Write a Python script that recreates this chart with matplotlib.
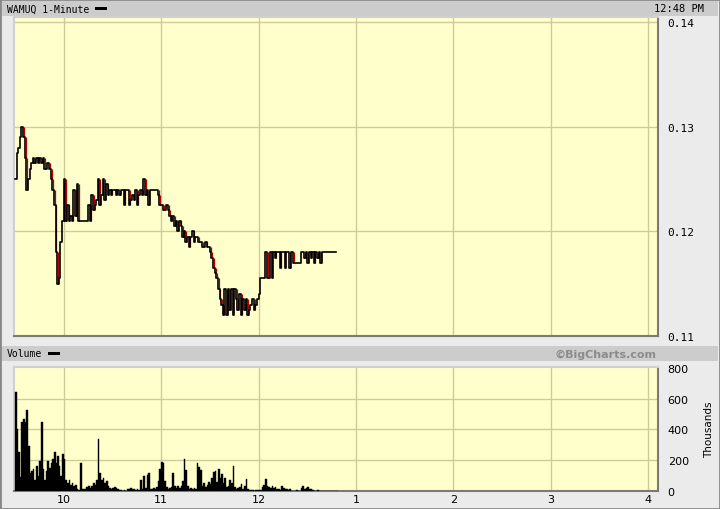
import numpy as np
import matplotlib
matplotlib.use("Agg")
import matplotlib.pyplot as plt
from matplotlib.patches import Rectangle

# minutes after 9:30, one close per minute
price = [
    0.125, 0.1275, 0.128, 0.129, 0.130, 0.129, 0.127, 0.124, 0.125, 0.126,
    0.1265, 0.127, 0.1265, 0.127, 0.1265, 0.127, 0.1265, 0.127, 0.126, 0.126,
    0.1265, 0.126, 0.125, 0.124, 0.1225, 0.118, 0.115, 0.1155, 0.119, 0.121,
    0.125, 0.121, 0.1225, 0.121, 0.1215, 0.121, 0.124, 0.1215, 0.1245, 0.121,
    0.121, 0.121, 0.121, 0.121, 0.121, 0.1225, 0.121, 0.1235, 0.122, 0.1225,
    0.123, 0.125, 0.1225, 0.1235, 0.125, 0.123, 0.1245, 0.1235, 0.124, 0.1235,
    0.124, 0.124, 0.1235, 0.124, 0.1235, 0.124, 0.124, 0.1225, 0.124, 0.124,
    0.1225, 0.123, 0.1235, 0.123, 0.124, 0.1225, 0.1235, 0.124, 0.1235, 0.125,
    0.1235, 0.124, 0.1225, 0.124, 0.124, 0.124, 0.124, 0.124, 0.1235, 0.1225,
    0.1225, 0.122, 0.122, 0.1225, 0.122, 0.1215, 0.121, 0.1215, 0.1205, 0.121,
    0.120, 0.121, 0.1205, 0.1195, 0.120, 0.119, 0.1195, 0.1185, 0.1195, 0.120,
    0.119, 0.1195, 0.1195, 0.119, 0.119, 0.1185, 0.1185, 0.119, 0.1185, 0.1185,
    0.118, 0.1175, 0.1165, 0.116, 0.1155, 0.1145, 0.1135, 0.113, 0.112, 0.1145,
    0.112, 0.1145, 0.1125, 0.1145, 0.112, 0.1145, 0.1135, 0.1125, 0.114, 0.112,
    0.1135, 0.1125, 0.1135, 0.112, 0.1125, 0.113, 0.1135, 0.1125, 0.113, 0.1135,
    0.114, 0.1155, 0.1155, 0.1155, 0.118, 0.1155, 0.1155, 0.118, 0.1155, 0.118,
    0.1175, 0.118, 0.118, 0.1165, 0.118, 0.118, 0.1165, 0.118, 0.118, 0.1165,
    0.118, 0.117, 0.117, 0.117, 0.117, 0.117, 0.118, 0.118, 0.1175, 0.118,
    0.117, 0.118, 0.1175, 0.118, 0.117, 0.118, 0.1175, 0.118, 0.117, 0.118,
    0.118, 0.118, 0.118, 0.118, 0.118, 0.118, 0.118, 0.118, 0.118,
]

# volume per minute, thousands
volume = [
    640, 400, 250, 90, 445, 470, 445, 525, 295, 115,
    130, 140, 70, 160, 95, 195, 445, 140, 70, 130,
    195, 150, 185, 205, 250, 185, 230, 160, 95, 240,
    205, 70, 50, 70, 40, 50, 30, 40, 15, 5,
    180, 15, 10, 15, 25, 30, 20, 30, 50, 40,
    70, 335, 115, 70, 85, 50, 65, 30, 20, 15,
    20, 25, 20, 10, 5, 5, 3, 5, 3, 10,
    15, 20, 10, 15, 5, 10, 5, 70, 15, 100,
    20, 105, 115, 10, 15, 20, 10, 25, 65, 140,
    190, 180, 65, 25, 15, 20, 25, 115, 30, 20,
    30, 20, 30, 65, 210, 135, 30, 15, 20, 10,
    20, 15, 185, 155, 135, 30, 50, 25, 40, 60,
    45, 85, 125, 130, 60, 140, 85, 110, 50, 85,
    25, 30, 70, 50, 165, 25, 15, 20, 25, 45,
    15, 30, 80, 15, 5, 5, 5, 3, 5, 5,
    5, 7, 25, 40, 80, 30, 25, 20, 30, 20,
    25, 15, 10, 5, 30, 20, 15, 10, 5, 10,
    3, 2, 2, 5, 3, 3, 20, 30, 15, 20,
    25, 15, 10, 5, 2, 2, 5, 3, 2, 3,
    2, 2, 2, 2, 2, 2, 2, 2, 2,
]

hour_ticks = [30, 90, 150, 210, 270, 330, 390]
hour_labels = ["10", "11", "12", "1", "2", "3", "4"]
price_ticks = [0.11, 0.12, 0.13, 0.14]
vol_ticks = [0, 200, 400, 600, 800]

W, H = 720, 510
BG = "#EBEBEB"
PANEL = "#FFFFCC"
GRID = "#CCCC99"


def box(x0, y0, x1, y1):
    # pixel box (top-left origin) -> figure fraction rect
    return [x0 / W, 1 - y1 / H, (x1 - x0) / W, (y1 - y0) / H]


def rect(x0, y0, x1, y1, **kw):
    l, b, w, h = box(x0, y0, x1, y1)
    fig.patches.append(Rectangle((l, b), w, h, transform=fig.transFigure, **kw))


fig = plt.figure(figsize=(W / 100, H / 100), dpi=100)
fig.patch.set_facecolor(BG)

# outer frame and header bars
rect(0, 0, 720, 510, facecolor="none", edgecolor="#888888", lw=2)
rect(2, 2, 718, 17, facecolor="#CCCCCC", edgecolor="none")
rect(2, 347, 718, 362, facecolor="#CCCCCC", edgecolor="none")
rect(95, 7.5, 107, 10.5, facecolor="black", edgecolor="none")
rect(48, 352.5, 60, 355.5, facecolor="black", edgecolor="none")

mono = "DejaVu Sans Mono"
fig.text(7 / W, 1 - 9.5 / H, "WAMUQ 1-Minute", family=mono, fontsize=7, va="center")
fig.text(704 / W, 1 - 9.5 / H, "12:48 PM", family=mono, fontsize=7.5, va="center", ha="right")
fig.text(7 / W, 1 - 354.5 / H, "Volume", family=mono, fontsize=7, va="center")
fig.text(656 / W, 1 - 354.5 / H, "\u00a9BigCharts.com", fontsize=8, fontweight="bold",
         color="#8C8C8C", va="center", ha="right")
fig.text(709 / W, 1 - 430 / H, "Thousands", fontsize=7.5, rotation=90, va="center", ha="center")

minutes = np.arange(len(price))
p = np.array(price)

# price panel
ax = fig.add_axes(box(14, 18, 658, 337))
ax.set_facecolor(PANEL)
ax.set_xlim(-0.6, 396)
ax.set_ylim(0.11, 0.1405)
for v in hour_ticks:
    ax.axvline(v, color=GRID, lw=1, zorder=1)
for v in price_ticks[1:]:
    ax.axhline(v, color=GRID, lw=1, zorder=1)
# downticks show as red strokes peeking out beside the black line
down = np.where(np.diff(p) < 0)[0] + 1
ax.vlines(minutes[down] + 0.55, p[down], p[down - 1], color="#B00000", lw=0.9, zorder=2)
ax.step(minutes, p, where="post", color="black", lw=1.2, zorder=3)
ax.set_xticks([])
ax.yaxis.tick_right()
ax.set_yticks(price_ticks)
ax.set_yticklabels([f"{v:.2f}" for v in price_ticks], family=mono, fontsize=8)
ax.tick_params(axis="y", length=0, pad=7)

# volume panel
axv = fig.add_axes(box(14, 368, 658, 492))
axv.set_facecolor(PANEL)
axv.set_xlim(-0.6, 396)
axv.set_ylim(0, 805)
for v in hour_ticks:
    axv.axvline(v, color=GRID, lw=1, zorder=1)
for v in vol_ticks[1:4]:
    axv.axhline(v, color=GRID, lw=1, zorder=1)
axv.bar(minutes, volume, width=1.0, color="black", edgecolor="black", lw=0.3,
        align="edge", zorder=3)
axv.yaxis.tick_right()
axv.set_yticks(vol_ticks)
axv.set_yticklabels([str(v) for v in vol_ticks], fontsize=8)
axv.tick_params(axis="y", length=0, pad=7)
axv.set_xticks(hour_ticks)
axv.set_xticklabels(hour_labels, fontsize=8)
axv.tick_params(axis="x", length=0, pad=2)

for a in (ax, axv):
    a.spines["left"].set_color("#D0D0D0")
    a.spines["top"].set_color("#D0D0D0")
    a.spines["right"].set_color("#7A7A7A")
    a.spines["bottom"].set_color("#7A7A7A")
    for s in a.spines.values():
        s.set_linewidth(1.5)

fig.savefig("out.png", dpi=100, facecolor=BG)
